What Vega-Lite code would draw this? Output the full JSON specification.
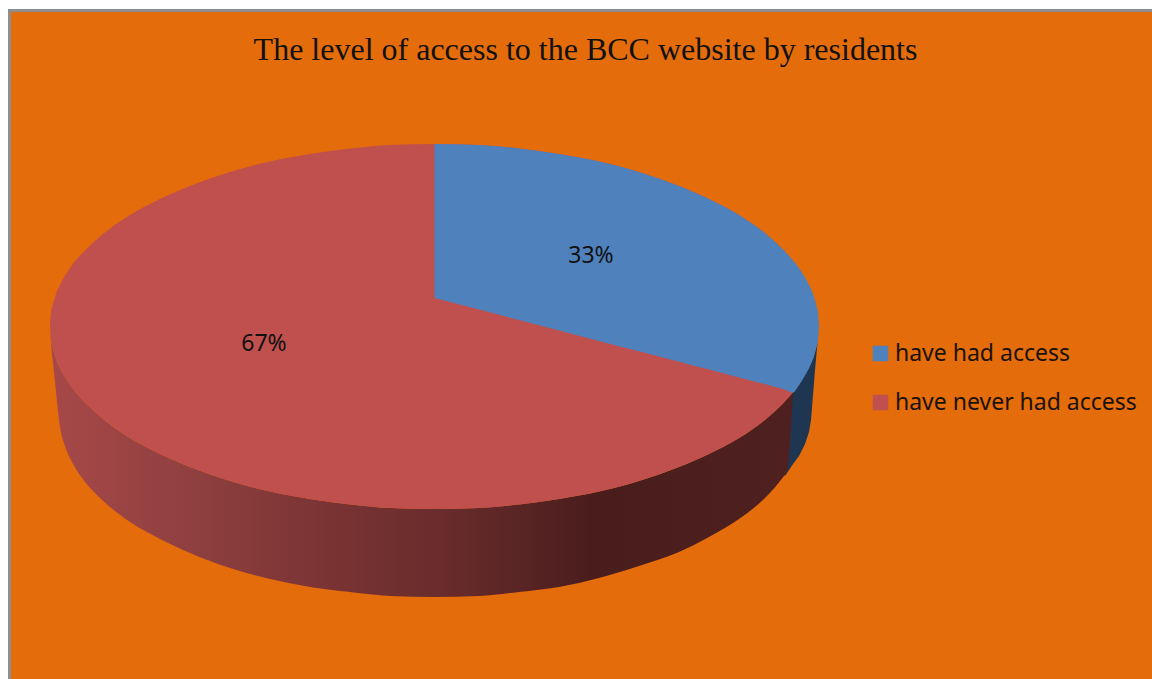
{
"$schema":"https://vega.github.io/schema/vega-lite/v6.json",
"autosize":{"type":"fit","contains":"padding"},"width":1152,"height":679,"padding":0,"background":"#ffffff",
"title":{"text":"The level of access to the BCC website by residents","font":"Liberation Serif","fontSize":32,"fontWeight":"normal","color":"#111111","anchor":"middle","frame":"group","offset":-67,"dx":9.5},
"config":{"view":{"stroke":null}},
"datasets":{
"border":[{"x":8,"x2":1152,"y":9,"y2":679}],
"panel":[{"x":11,"x2":1152,"y":12,"y2":679}],
"blueWall":[{"x":785,"y":402,"y2":476},{"x":793,"y":392.5,"y2":464},{"x":799,"y":385,"y2":456},{"x":805,"y":374,"y2":444},{"x":809,"y":368,"y2":432},{"x":811,"y":362,"y2":420},{"x":813,"y":359,"y2":395},{"x":815,"y":352,"y2":370},{"x":817,"y":345,"y2":348},{"x":818,"y":340,"y2":340}],
"redWall":[{"x":50,"y":326.5,"y2":326.5},{"x":51,"y":340,"y2":343},{"x":53,"y":349,"y2":363},{"x":56,"y":359,"y2":392},{"x":60,"y":368,"y2":427},{"x":65,"y":377,"y2":446},{"x":73,"y":389,"y2":464},{"x":85,"y":402.5,"y2":482},{"x":100,"y":416.5,"y2":498},{"x":130,"y":438,"y2":522},{"x":160,"y":454,"y2":539},{"x":190,"y":467,"y2":553},{"x":230,"y":481,"y2":568},{"x":270,"y":491.5,"y2":579},{"x":310,"y":499,"y2":587},{"x":350,"y":504.5,"y2":592},{"x":390,"y":508,"y2":596},{"x":434.5,"y":509,"y2":597},{"x":479,"y":508,"y2":596},{"x":519,"y":504.5,"y2":592},{"x":559,"y":499,"y2":587},{"x":599,"y":491.5,"y2":578},{"x":639,"y":481,"y2":566},{"x":679,"y":467,"y2":552},{"x":709,"y":454,"y2":537},{"x":739,"y":438,"y2":519},{"x":769,"y":416.5,"y2":494},{"x":784,"y":402.5,"y2":476},{"x":787,"y":399.3,"y2":472},{"x":793,"y":392.5,"y2":392.5}],
"topFaces":[
{"series":"have never had access","x":50,"y":326.5,"y2":326.5},{"series":"have never had access","x":51,"y":313,"y2":340},{"series":"have never had access","x":53,"y":304,"y2":349},{"series":"have never had access","x":56,"y":294,"y2":359},{"series":"have never had access","x":60,"y":285,"y2":368},{"series":"have never had access","x":70,"y":268,"y2":385},{"series":"have never had access","x":85,"y":250.5,"y2":402.5},{"series":"have never had access","x":100,"y":236.5,"y2":416.5},{"series":"have never had access","x":130,"y":215,"y2":438},{"series":"have never had access","x":160,"y":199,"y2":454},{"series":"have never had access","x":190,"y":186,"y2":467},{"series":"have never had access","x":230,"y":172,"y2":481},{"series":"have never had access","x":270,"y":161.5,"y2":491.5},{"series":"have never had access","x":310,"y":154,"y2":499},{"series":"have never had access","x":350,"y":148.5,"y2":504.5},{"series":"have never had access","x":390,"y":145,"y2":508},{"series":"have never had access","x":434.5,"y":144,"y2":509},{"series":"have never had access","x":479,"y":145,"y2":508},{"series":"have never had access","x":519,"y":148.5,"y2":504.5},{"series":"have never had access","x":559,"y":154,"y2":499},{"series":"have never had access","x":599,"y":161.5,"y2":491.5},{"series":"have never had access","x":639,"y":172,"y2":481},{"series":"have never had access","x":679,"y":186,"y2":467},{"series":"have never had access","x":709,"y":199,"y2":454},{"series":"have never had access","x":739,"y":215,"y2":438},{"series":"have never had access","x":769,"y":236.5,"y2":416.5},{"series":"have never had access","x":784,"y":250.5,"y2":402.5},{"series":"have never had access","x":793,"y":260.5,"y2":392.5},
{"series":"have had access","x":434.5,"y":144,"y2":298},{"series":"have had access","x":479,"y":145,"y2":309.6},{"series":"have had access","x":519,"y":148.5,"y2":320},{"series":"have had access","x":559,"y":154,"y2":330.5},{"series":"have had access","x":599,"y":161.5,"y2":340.9},{"series":"have had access","x":639,"y":172,"y2":351.3},{"series":"have had access","x":679,"y":186,"y2":361.8},{"series":"have had access","x":709,"y":199,"y2":369.6},{"series":"have had access","x":739,"y":215,"y2":377.4},{"series":"have had access","x":769,"y":236.5,"y2":385.2},{"series":"have had access","x":784,"y":250.5,"y2":389.2},{"series":"have had access","x":793,"y":260.5,"y2":392.5},{"series":"have had access","x":799,"y":268,"y2":385},{"series":"have had access","x":809,"y":285,"y2":368},{"series":"have had access","x":813,"y":294,"y2":359},{"series":"have had access","x":816,"y":304,"y2":349},{"series":"have had access","x":818,"y":313,"y2":340},{"series":"have had access","x":819,"y":326.5,"y2":326.5}],
"labels":[{"series":"have had access","share":33,"label":"33%","x":591,"y":256},{"series":"have never had access","share":67,"label":"67%","x":264,"y":344}]
},
"encoding":{
"x":{"field":"x","type":"quantitative","scale":{"domain":[0,1152],"nice":false,"zero":false},"axis":null},
"y":{"field":"y","type":"quantitative","scale":{"domain":[679,0],"nice":false,"zero":false},"axis":null}
},
"layer":[
{"data":{"name":"border"},"mark":{"type":"rect","color":"#8E8E8E"},"encoding":{"x2":{"field":"x2"},"y2":{"field":"y2"}}},
{"data":{"name":"panel"},"mark":{"type":"rect","color":"#E46C0A"},"encoding":{"x2":{"field":"x2"},"y2":{"field":"y2"}}},
{"data":{"name":"blueWall"},"mark":{"type":"area","color":"#1E3651"},"encoding":{"y2":{"field":"y2"}}},
{"data":{"name":"redWall"},"mark":{"type":"area","interpolate":"monotone","color":{"gradient":"linear","x1":0,"y1":0,"x2":1,"y2":0,"stops":[{"offset":0,"color":"#A84848"},{"offset":0.2,"color":"#8E3F3F"},{"offset":0.377,"color":"#7A3333"},{"offset":0.54,"color":"#682B2B"},{"offset":0.727,"color":"#4A1D1D"},{"offset":1,"color":"#4E2020"}]}},"encoding":{"y2":{"field":"y2"}}},
{"data":{"name":"topFaces"},"mark":{"type":"area","interpolate":"monotone"},"encoding":{"y2":{"field":"y2"},"color":{"field":"series","type":"nominal","scale":{"domain":["have had access","have never had access"],"range":["#4F81BD","#C0504D"]},"legend":{"title":null,"orient":"none","legendX":869,"legendY":342,"symbolType":"square","symbolSize":240,"symbolStrokeWidth":0,"symbolOpacity":1,"labelFont":"Noto Sans","labelFontSize":23,"labelColor":"#1A1208","labelOffset":3,"rowPadding":25,"labelLimit":300}}}},
{"data":{"name":"labels"},"mark":{"type":"text","font":"Noto Sans","fontSize":23,"color":"#111111"},"encoding":{"text":{"field":"label"}}}
]
}
